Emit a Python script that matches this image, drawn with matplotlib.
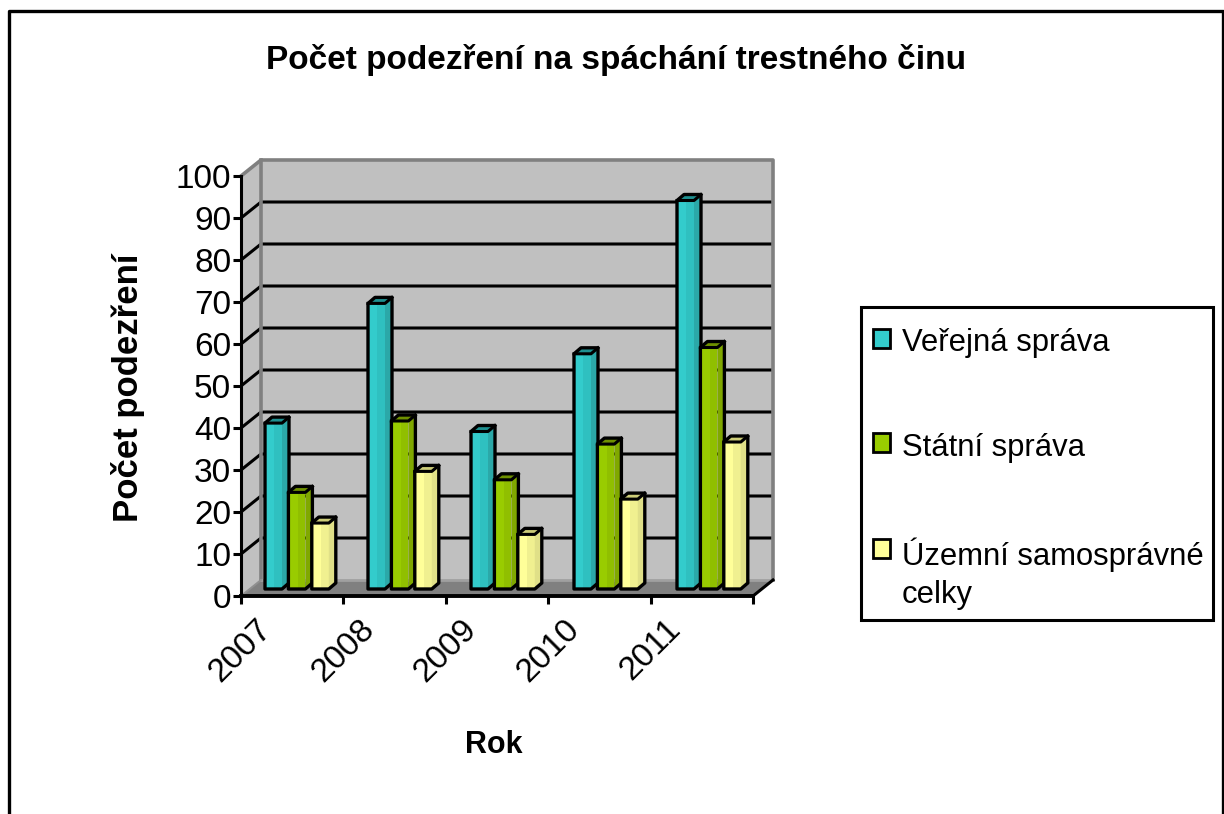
import matplotlib
matplotlib.use("Agg")
import matplotlib.pyplot as plt
from matplotlib.patches import Polygon, Patch, Rectangle
from matplotlib.lines import Line2D

plt.rcParams['font.family'] = ['Liberation Sans', 'DejaVu Sans']

years = ['2007', '2008', '2009', '2010', '2011']
series = ['Veřejná správa', 'Státní správa', 'Územní samosprávné\ncelky']
verejna = [39.5, 68, 37.5, 56, 92.5]
statni = [23, 40, 26, 34.5, 57.5]
uzemni = [15.7, 28, 13, 21.4, 35]
values = [verejna, statni, uzemni]
face = ['#33CCCC', '#99CC00', '#FFFF99']
mid = ['#2FC0C0', '#90BF00', '#F0F090']
side = ['#2BA8A8', '#80A800', '#E0E088']
top = ['#1E9090', '#6E9000', '#CCCC78']

W, H = 1224, 814
fig = plt.figure(figsize=(W / 100, H / 100), dpi=100, facecolor='white')
L, R, T, B = 241, 753, 176, 596
ax = fig.add_axes([L / W, 1 - B / H, (R - L) / W, (B - T) / H])
ax.set_xlim(0, 5)
ax.set_ylim(0, 100)
ax.patch.set_visible(False)
for s in ax.spines.values():
    s.set_visible(False)

px = 5 / (R - L)
py = 100 / (B - T)
DX, DY = 20 * px, 16 * py

def poly(pts, fc, ec='none', lw=0, z=2):
    ax.add_patch(Polygon(pts, closed=True, facecolor=fc, edgecolor=ec, linewidth=lw,
                         zorder=z, clip_on=False, joinstyle='round'))

# walls and floor
GREY = '#C0C0C0'
WALL = '#808080'
poly([(DX, DY), (5 + DX, DY), (5 + DX, 100 + DY), (DX, 100 + DY)], GREY, z=1)
poly([(0, 0), (DX, DY), (DX, 100 + DY), (0, 100)], GREY, z=1)
poly([(0, 0), (5, 0), (5 + DX, DY), (DX, DY)], '#808080', z=1)

# gridlines
ticks = list(range(0, 101, 10))
for t in ticks[1:-1]:
    ax.plot([0, DX, 5 + DX], [t, t + DY, t + DY], color='black', lw=2.2, zorder=1.4, clip_on=False,
            solid_capstyle='butt')

ax.plot([0, DX, 5 + DX, 5 + DX], [100, 100 + DY, 100 + DY, DY], color=WALL, lw=2.6, zorder=1.5, clip_on=False)
ax.plot([DX, DX], [DY, 100 + DY], color=WALL, lw=2.6, zorder=1.5, clip_on=False)
ax.plot([DX, 5 + DX], [DY, DY], color='#A0A0A0', lw=2, zorder=1.5, clip_on=False)

# axes lines
ax.plot([0, 0], [0, 100], color='black', lw=2.2, zorder=5, clip_on=False, solid_capstyle='projecting')
ax.plot([0, 5], [0, 0], color='black', lw=2.8, zorder=5, clip_on=False, solid_capstyle='projecting')
ax.plot([5, 5 + DX], [0, DY], color='black', lw=2.2, zorder=1.7, clip_on=False)
ax.plot([0, DX], [0, DY], color='#909090', lw=1.4, zorder=1.7, clip_on=False)

ax.set_yticks(ticks)
ax.tick_params(axis='y', length=6, width=2.2, labelsize=24, pad=1)
ax.set_xticks(range(6))
ax.set_xticklabels(years + [''], rotation=45, ha='center', va='top', rotation_mode='default')
ax.tick_params(axis='x', length=6, width=2.2, labelsize=24, pad=6.5)

# bars
bw = 17 * px
bdx, bdy = 7 * px, 6 * py
step = 23.4 * px
start = 24 * px
period = 103 * px
base = 7 * py
for j, vals in enumerate(values):
    for i, v in enumerate(vals):
        x0 = i * period + start + j * step
        x1 = x0 + bw
        y0 = base
        y1 = base + v
        z = 3 + j * 0.01 + i
        # front face in shaded bands
        poly([(x0, y0), (x1, y0), (x1, y1), (x0, y1)], face[j], z=z)
        poly([(x0 + bw * .55, y0), (x1, y0), (x1, y1), (x0 + bw * .55, y1)], mid[j], z=z)
        poly([(x1, y0), (x1 + bdx, y0 + bdy), (x1 + bdx, y1 + bdy), (x1, y1)], side[j], z=z)
        poly([(x0, y1), (x1, y1), (x1 + bdx, y1 + bdy), (x0 + bdx, y1 + bdy)], top[j], z=z)
        poly([(x0, y0), (x1, y0), (x1 + bdx, y0 + bdy), (x1 + bdx, y1 + bdy),
              (x0 + bdx, y1 + bdy), (x0, y1)], 'none', ec='black', lw=2.4, z=z + 0.001)
        ax.plot([x0, x1, x1 + bdx], [y1, y1, y1 + bdy], color='black', lw=2.2, zorder=z + 0.001, clip_on=False)

# outer frame, open at the bottom edge of the picture
fig.add_artist(Line2D([8.7 / W, 8.7 / W, 1222.5 / W, 1222.5 / W], [0, 1 - 10.5 / H, 1 - 10.5 / H, 0],
                      color='black', lw=2.4))

fig.text(616 / W, 1 - 60 / H, 'Počet podezření na spáchání trestného činu', fontsize=24, fontweight='bold',
         ha='center', va='center')
fig.text(128 / W, 1 - 388 / H, 'Počet podezření', fontsize=25, fontweight='bold', rotation=90,
         ha='center', va='center')
fig.text(494 / W, 1 - 745 / H, 'Rok', fontsize=22, fontweight='bold', ha='center', va='center')

# legend box
fig.add_artist(Rectangle((861 / W, 1 - 620 / H), 352 / W, 313 / H, transform=fig.transFigure,
                         facecolor='white', edgecolor='black', linewidth=2.2))
handles = [Patch(facecolor=c, edgecolor='black', linewidth=2) for c in face]
leg = fig.legend(handles, series, loc='lower left', bbox_to_anchor=(861 / W, 1 - 622 / H),
                 bbox_transform=fig.transFigure, fontsize=22.3, frameon=False,
                 borderaxespad=0, borderpad=0.4,
                 handlelength=0.55, handleheight=0.55, handletextpad=0.36, labelspacing=2.4,
                 alignment='left')
leg.get_texts()[2].set_linespacing(1.35)
for h, lift in zip(leg.legend_handles, [1.5, 1.5, 18.5]):
    h.set_y(h.get_y() + lift)

fig.savefig('out.png', dpi=100)
